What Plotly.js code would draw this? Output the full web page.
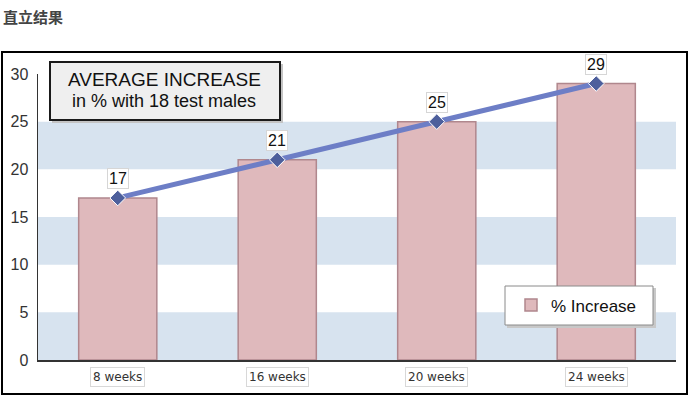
<!DOCTYPE html>
<html><head><meta charset="utf-8">
<script src="https://cdn.plot.ly/plotly-3.0.1.min.js"></script>
<style>body{margin:0;background:#fff;} #c{width:690px;height:396px;}</style>
</head><body><div id="c"></div>
<script>
const categories = ['8 weeks','16 weeks','20 weeks','24 weeks'];
const increase = [17, 21, 25, 29];
const yTicks = [0,5,10,15,20,25,30];
const seriesName = '% Increase';
const pageTitle = '直立结果';
const boxTitle1 = 'AVERAGE INCREASE';
const boxTitle2 = 'in % with 18 test males';

const font = 'Arial, "Liberation Sans", sans-serif';
// pixel -> paper helpers (plot area: x 38..676, y 74..360)
const px = v => (v - 38) / 638;
const py = v => (360 - v) / 286;

const shapes = [];
for (let i = 0; i < yTicks.length - 1; i += 2) {
  shapes.push({type:'rect', xref:'paper', yref:'y', x0:0, x1:1, y0:yTicks[i], y1:yTicks[i+1],
    fillcolor:'#d7e3ef', line:{width:0}, layer:'below'});
}
// outer border
shapes.push({type:'rect', xref:'paper', yref:'paper', x0:px(2), x1:px(687), y0:py(394), y1:py(52),
  line:{color:'#000', width:2}, fillcolor:'rgba(0,0,0,0)', layer:'below'});
// title box shadow + box
shapes.push({type:'rect', xref:'paper', yref:'paper', x0:px(52), x1:px(283), y0:py(123), y1:py(64),
  fillcolor:'#c4c4c4', line:{width:0}, layer:'above'});
shapes.push({type:'rect', xref:'paper', yref:'paper', x0:px(50), x1:px(280), y0:py(120), y1:py(62),
  fillcolor:'#efefef', line:{color:'#1a1a1a', width:2}, layer:'above'});
// legend shadow + box
shapes.push({type:'rect', xref:'paper', yref:'paper', x0:px(507), x1:px(656), y0:py(328), y1:py(288),
  fillcolor:'#c8c8c8', line:{width:0}, layer:'above'});
shapes.push({type:'rect', xref:'paper', yref:'paper', x0:px(505), x1:px(653), y0:py(325), y1:py(286),
  fillcolor:'#fff', line:{color:'#8a8a8a', width:1}, layer:'above'});

const annotations = [
  {xref:'paper', yref:'paper', x:px(164), y:py(80), xanchor:'center', yanchor:'middle', text:boxTitle1, showarrow:false,
    font:{family:font, size:19, color:'#111'}},
  {xref:'paper', yref:'paper', x:px(164), y:py(101), xanchor:'center', yanchor:'middle', text:boxTitle2, showarrow:false,
    font:{family:font, size:18, color:'#111'}},
  {xref:'paper', yref:'paper', x:px(1), y:py(17), xanchor:'left', yanchor:'middle', text:'<b>'+pageTitle+'</b>', showarrow:false,
    font:{family:'"Noto Sans CJK SC", sans-serif', size:15, color:'#444'}}
];
categories.forEach((c, i) => {
  annotations.push({x:i, y:0, xref:'x', yref:'y', yshift:-17, text:c, showarrow:false,
    bgcolor:'#fff', bordercolor:'#d8d8d8', borderwidth:1, borderpad:2,
    font:{family:'Verdana, "DejaVu Sans", sans-serif', size:12, color:'#333'}});
  annotations.push({x:i, y:increase[i], xref:'x', yref:'y', yshift:19, text:String(increase[i]), showarrow:false,
    bgcolor:'#fff', bordercolor:'#d6d6d6', borderwidth:1, borderpad:1,
    font:{family:font, size:16, color:'#111'}});
});

const data = [
  {type:'bar', x:categories, y:increase, name:seriesName, width:0.49,
   marker:{color:'#dfb9bc', line:{color:'#b0878d', width:1.5}}},
  {type:'scatter', mode:'lines+markers', x:categories, y:increase, showlegend:false,
   line:{color:'#6d7ec6', width:5}, marker:{symbol:'diamond', size:12, color:'#4d5f9c', line:{color:'#fff', width:1}}}
];

const layout = {
  width:690, height:396,
  margin:{l:38, r:14, t:74, b:36},
  paper_bgcolor:'#fff', plot_bgcolor:'rgba(0,0,0,0)',
  showlegend:true,
  legend:{x:px(511), y:py(305.5), xanchor:'left', yanchor:'middle', bgcolor:'rgba(0,0,0,0)', borderwidth:0,
    font:{family:font, size:17, color:'#111'}, itemwidth:30},
  xaxis:{type:'category', range:[-0.5,3.5], showticklabels:false, showgrid:false, zeroline:false,
    showline:true, linecolor:'#333', linewidth:1.5, ticks:'', fixedrange:true},
  yaxis:{range:[0,30], tickvals:yTicks, showgrid:false, zeroline:false, showline:true, linecolor:'#333', linewidth:1.5,
    ticks:'', ticklabelstandoff:5, tickfont:{family:font, size:16, color:'#333'}, fixedrange:true},
  shapes:shapes, annotations:annotations
};
Plotly.newPlot('c', data, layout, {staticPlot:true});
</script></body></html>
